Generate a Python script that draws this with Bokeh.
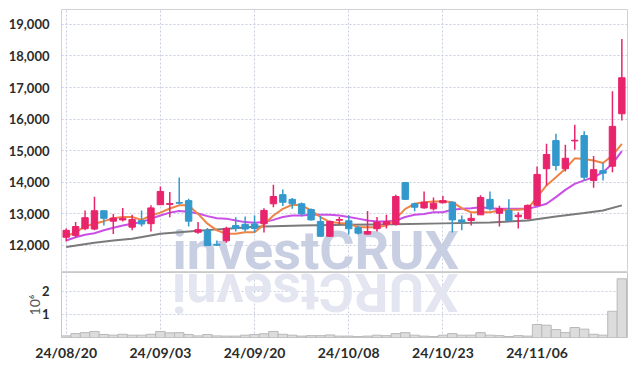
import math
from bokeh.plotting import figure
from bokeh.layouts import column
from bokeh.models import Range1d, FixedTicker, NumeralTickFormatter
from bokeh.embed import file_html
from bokeh.resources import INLINE
from bokeh.core.properties import value

# ---------------- data ----------------
dates = [
    "24/08/20", "24/08/21", "24/08/22", "24/08/23", "24/08/26", "24/08/27", "24/08/28", "24/08/29", "24/08/30", "24/09/02",
    "24/09/03", "24/09/04", "24/09/05", "24/09/06", "24/09/09", "24/09/10", "24/09/11", "24/09/12", "24/09/13", "24/09/19",
    "24/09/20", "24/09/23", "24/09/24", "24/09/25", "24/09/26", "24/09/27", "24/09/30", "24/10/02", "24/10/04", "24/10/07",
    "24/10/08", "24/10/10", "24/10/11", "24/10/14", "24/10/15", "24/10/16", "24/10/17", "24/10/18", "24/10/21", "24/10/22",
    "24/10/23", "24/10/24", "24/10/25", "24/10/28", "24/10/29", "24/10/30", "24/10/31", "24/11/01", "24/11/04", "24/11/05",
    "24/11/06", "24/11/07", "24/11/08", "24/11/11", "24/11/12", "24/11/13", "24/11/14", "24/11/15", "24/11/18", "24/11/19",
]
open_ = [12260, 12320, 12530, 12520, 13100, 12770, 12810, 12580, 12790, 12690,
         13290, 13300, 13360, 13420, 12420, 12480, 12040, 12150, 12630, 12670,
         12680, 12690, 13320, 13610, 13460, 13320, 13140, 12760, 12290, 12800,
         12780, 12560, 12360, 12530, 12670, 12670, 13990, 13320, 13190, 13160,
         13350, 13370, 12810, 12790, 12970, 13460, 13020, 13110, 12910, 12850,
         13270, 14430, 15320, 14430, 15310, 15480, 14060, 14370, 14510, 16170]
high = [12540, 12740, 13110, 13540, 13110, 13000, 13190, 12970, 13110, 13270,
        13870, 13690, 14150, 13480, 12740, 12550, 12160, 12590, 12890, 12920,
        12950, 13180, 13920, 13770, 13500, 13360, 13170, 12930, 12790, 12900,
        12960, 12610, 13090, 12900, 12970, 13610, 13990, 13350, 13710, 13520,
        13570, 13390, 12950, 13010, 13590, 13710, 13260, 13460, 13050, 13300,
        14500, 15220, 15540, 15190, 15820, 15620, 14830, 14610, 16880, 18540]
low = [12130, 12250, 12480, 12480, 12630, 12360, 12760, 12480, 12600, 12440,
       13280, 12890, 13300, 12600, 12370, 11980, 11990, 12090, 12440, 12440,
       12410, 12410, 13210, 13250, 13160, 12920, 12790, 12290, 12270, 12670,
       12350, 12350, 12350, 12440, 12540, 12630, 13440, 13080, 13160, 13110,
       13340, 12410, 12480, 12630, 12970, 13110, 12600, 12790, 12540, 12820,
       13250, 13900, 14370, 14340, 15030, 14060, 13830, 14060, 14320, 15960]
close = [12480, 12600, 12880, 13100, 12860, 12870, 12860, 12820, 12680, 13190,
         13710, 13330, 13340, 12770, 12500, 12000, 12010, 12540, 12540, 12520,
         12540, 13110, 13550, 13370, 13320, 13000, 12810, 12290, 12760, 12820,
         12530, 12390, 12440, 12740, 12760, 13550, 13460, 13210, 13370, 13340,
         13420, 12810, 12740, 12860, 13520, 13160, 13170, 12790, 12960, 13270,
         14250, 14880, 14530, 14760, 15330, 14160, 14400, 14290, 15770, 17310]
volume_millions = [0.07, 0.17, 0.21, 0.26, 0.13, 0.10, 0.14, 0.10, 0.10, 0.14,
                   0.26, 0.20, 0.21, 0.13, 0.07, 0.13, 0.07, 0.06, 0.06, 0.10,
                   0.13, 0.16, 0.26, 0.14, 0.10, 0.06, 0.08, 0.08, 0.11, 0.06,
                   0.06, 0.04, 0.06, 0.10, 0.08, 0.17, 0.21, 0.10, 0.06, 0.04,
                   0.10, 0.17, 0.10, 0.10, 0.21, 0.10, 0.08, 0.04, 0.08, 0.06,
                   0.56, 0.53, 0.34, 0.21, 0.43, 0.36, 0.14, 0.10, 1.13, 2.53]
ma5 = [12290, 12420, 12600, 12690, 12770, 12860, 12900, 12900, 12810, 12950,
       13040, 13170, 13270, 13270, 13000, 12690, 12480, 12370, 12370, 12420,
       12420, 12660, 12950, 13160, 13290, 13270, 13110, 12900, 12740, 12710,
       12690, 12580, 12580, 12580, 12630, 12850, 13160, 13320, 13370, 13390,
       13400, 13370, 13180, 13050, 13050, 13050, 13110, 13130, 13130, 13160,
       13530, 13900, 14160, 14430, 14760, 14740, 14690, 14610, 14850, 15220]
ma10 = [12160, 12260, 12340, 12390, 12480, 12560, 12630, 12690, 12740, 12850,
        12950, 13040, 13090, 13070, 13010, 12930, 12860, 12850, 12790, 12740,
        12720, 12740, 12810, 12900, 12950, 12950, 12970, 12970, 12970, 12950,
        12900, 12850, 12790, 12760, 12760, 12790, 12900, 12970, 13000, 13050,
        13050, 13130, 13160, 13180, 13210, 13180, 13160, 13160, 13160, 13160,
        13230, 13320, 13530, 13760, 13950, 14060, 14160, 14320, 14590, 14990]
ma_long_idx = [0, 3, 5, 7, 10, 13, 16, 20, 25, 30, 35, 40, 45, 49, 52, 55, 57, 59]
ma_long = [11950, 12090, 12160, 12210, 12370, 12440, 12510, 12590, 12630, 12660,
           12670, 12700, 12730, 12790, 12920, 13030, 13110, 13270]
price_ticks = [12000, 13000, 14000, 15000, 16000, 17000, 18000, 19000]
volume_ticks = [1, 2]
label_every = 10
watermark = "investCRUX"
volume_unit = "10⁶"

# ---------------- styling ----------------
UP = "#E8246C"
DOWN = "#3399CC"
GRID = "#c9cde0"
FONT = "Lato"

n = len(dates)
idx = list(range(n))
colors = [UP if c >= o else DOWN for o, c in zip(open_, close)]
body_top = [max(o, c) for o, c in zip(open_, close)]
body_bot = [min(o, c) for o, c in zip(open_, close)]
date_ticks = list(range(0, n, label_every))

x_range = Range1d(-0.5, n - 0.4)


def style_y(ax):
    ax.axis_line_color = None
    ax.major_tick_line_color = None
    ax.minor_tick_line_color = None
    ax.major_label_standoff = 6
    ax.major_label_text_font = FONT
    ax.major_label_text_font_style = "bold"
    ax.major_label_text_font_size = "13px"
    ax.major_label_text_color = "#2b2b2b"


def style_grid(fig):
    for g in (fig.xgrid, fig.ygrid):
        g.grid_line_color = GRID
        g.grid_line_dash = "2 2"
        g.grid_line_width = 1


p = figure(width=634, height=272, x_range=x_range, y_range=Range1d(11145, 19470),
           output_backend="svg", toolbar_location=None, x_axis_location=None,
           min_border_left=61, min_border_right=7, min_border_top=9, min_border_bottom=0)
p.outline_line_color = "#d2d2d2"
p.yaxis.ticker = FixedTicker(ticks=price_ticks)
p.yaxis.formatter = NumeralTickFormatter(format="0,0")
style_y(p.yaxis[0])
p.xgrid.ticker = FixedTicker(ticks=date_ticks)
style_grid(p)

# watermark
p.text(x=[11.28], y=[11830], text=[watermark], text_font=value("Roboto"),
       text_font_style="bold", text_font_size="54px", text_color="#c9cfe3",
       text_align="left", text_baseline="middle")

# moving averages
p.line([idx[i] for i in ma_long_idx], ma_long, line_color="#7a7a7a", line_width=2)
p.line(idx, ma10, line_color="#c94fe6", line_width=2)
p.line(idx, ma5, line_color="#ef8447", line_width=2)

# candles
p.segment(x0=idx, y0=low, x1=idx, y1=high, line_color=colors, line_width=1.5)
p.vbar(x=idx, width=0.68, top=body_top, bottom=body_bot, fill_color=colors, line_color=colors, line_width=1)

# ---------------- volume panel ----------------
v = figure(width=634, height=94, x_range=x_range, y_range=Range1d(0, 2.8),
           output_backend="svg", toolbar_location=None,
           min_border_left=61, min_border_right=7, min_border_top=0, min_border_bottom=29)
v.outline_line_color = "#c8c8c8"
v.yaxis.ticker = FixedTicker(ticks=volume_ticks)
style_y(v.yaxis[0])
v.yaxis.axis_label = volume_unit
v.yaxis.axis_label_text_font = FONT
v.yaxis.axis_label_text_font_style = "normal"
v.yaxis.axis_label_text_font_size = "14px"
v.yaxis.axis_label_text_color = "#555555"
v.yaxis.axis_label_standoff = -4
v.xaxis.ticker = FixedTicker(ticks=date_ticks)
v.xaxis.major_label_overrides = {i: dates[i] for i in date_ticks}
v.xaxis.axis_line_color = None
v.xaxis.major_tick_line_color = None
v.xaxis.minor_tick_line_color = None
v.xaxis.major_label_standoff = 0
v.xaxis.major_label_text_font = FONT
v.xaxis.major_label_text_font_style = "bold"
v.xaxis.major_label_text_font_size = "14px"
v.xaxis.major_label_text_color = "#2b2b2b"
v.xgrid.ticker = FixedTicker(ticks=date_ticks)
style_grid(v)

# watermark reflection (rotated, reversed string)
v.text(x=[41.65], y=[1.92], text=[watermark[::-1]], angle=math.pi, text_font=value("Roboto"),
       text_font_style="bold", text_font_size="54px", text_color="#e3e6f0",
       text_align="left", text_baseline="middle")

v.vbar(x=idx, width=1.0, top=volume_millions, bottom=0,
       fill_color="#dcdcdc", line_color="#b9b9b9", line_width=1)

layout = column(p, v, spacing=0)
open("out.html", "w").write(file_html(layout, INLINE))
